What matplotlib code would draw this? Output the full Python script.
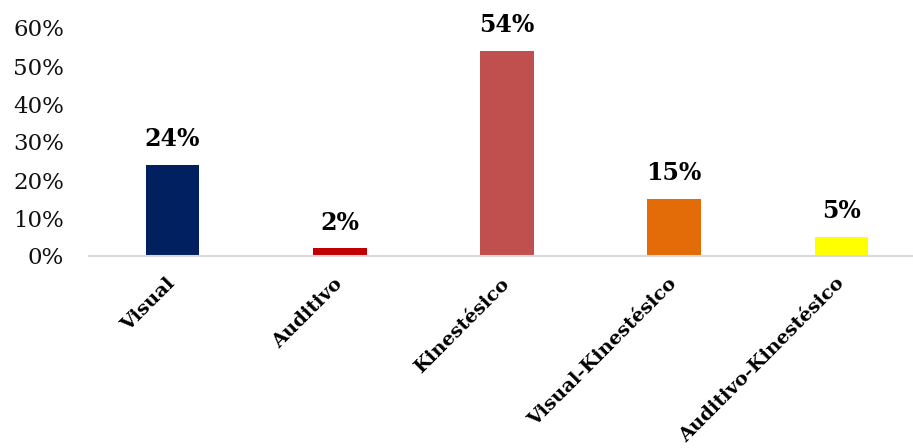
import matplotlib
matplotlib.use("Agg")
import matplotlib.pyplot as plt
from matplotlib.ticker import FuncFormatter

categories = ["Visual", "Auditivo", "Kinestésico", "Visual-Kinestésico", "Auditivo-Kinestésico"]
values = [24, 2, 54, 15, 5]
colors = ["#002060", "#C00000", "#C0504D", "#E36C09", "#FFFF00"]
yticks = [0, 10, 20, 30, 40, 50, 60]

plt.rcParams['font.family'] = ['DejaVu Serif']

fig = plt.figure(figsize=(9.13, 4.48), dpi=100)
W, H = 913, 448
left, right = 89, 925
y0, y60 = 256, 28
ax = fig.add_axes([left / W, 1 - y0 / H, (right - left) / W, (y0 - y60) / H])
x = list(range(len(categories)))
ax.bar(x, values, width=0.32, color=colors, zorder=2)
ax.set_xlim(-0.5, 4.5)
ax.set_ylim(0, 60)
ax.set_yticks(yticks)
ax.yaxis.set_major_formatter(FuncFormatter(lambda v, p: f"{int(v)}%"))
for s in ["top", "right", "left"]:
    ax.spines[s].set_visible(False)
ax.spines["bottom"].set_color("#D9D9D9")
ax.spines["bottom"].set_linewidth(1.5)
ax.tick_params(axis="y", length=0, labelsize=16.5, pad=18, labelcolor="#111111")
ax.tick_params(axis="x", length=0, pad=18)
ax.set_xticks(x)
ax.set_xticklabels(categories, rotation=45, ha="right", va="center",
                   rotation_mode="anchor", fontsize=14, fontweight="bold")
for xi, v in zip(x, values):
    ax.annotate(f"{v}%", (xi, v), xytext=(0, 10), textcoords="offset points",
                ha="center", va="bottom", fontsize=17, fontweight="bold")
fig.savefig("out.png", dpi=100)
